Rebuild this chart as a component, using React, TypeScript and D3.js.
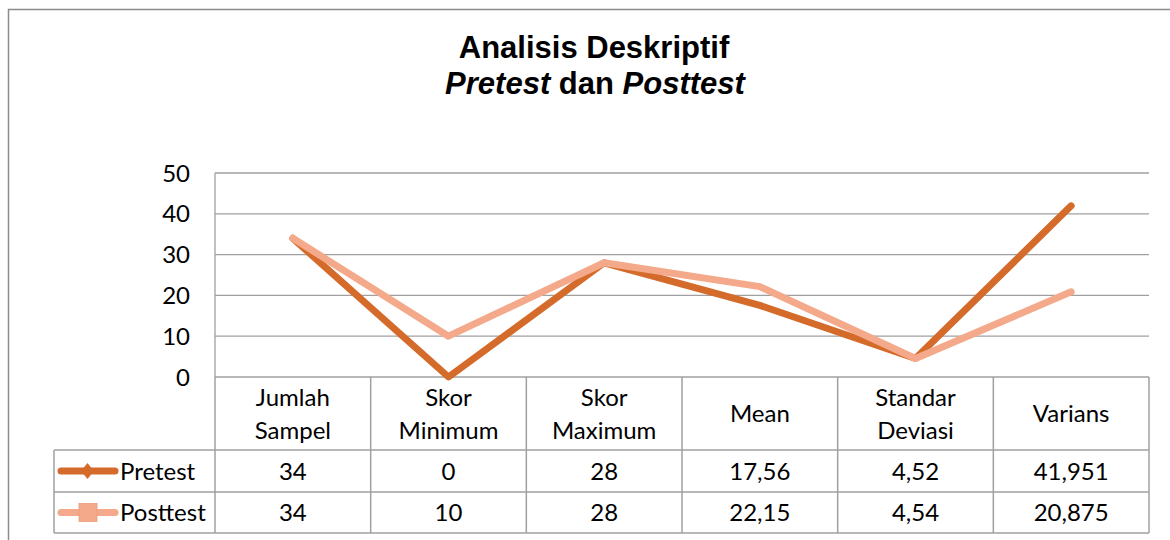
import React from "react";
import * as d3 from "d3";

const categories = ["Jumlah Sampel", "Skor Minimum", "Skor Maximum", "Mean", "Standar Deviasi", "Varians"];
const categoryLines = [["Jumlah", "Sampel"], ["Skor", "Minimum"], ["Skor", "Maximum"], ["Mean"], ["Standar", "Deviasi"], ["Varians"]];
const pretestValues = [34, 0, 28, 17.56, 4.52, 41.951];
const posttestValues = [34, 10, 28, 22.15, 4.54, 20.875];
const yTicks = [0, 10, 20, 30, 40, 50];
const seriesNames = ["Pretest", "Posttest"];

const W = 1170, H = 540;
const plotL = 215, plotR = 1149, plotT = 173, plotB = 377;
const legendL = 54;
const row1B = 450, row2B = 492, row3B = 533;
const gridColor = "#a0a0a0";
const preColor = "#D46B2B";
const postColor = "#F4A98A";
const font = "Lato, 'Noto Sans', sans-serif";
const fs = 24;

const fmt = (v: number) => String(v).replace(".", ",");

export default function App() {
  const x = d3.scaleBand<string>().domain(categories).range([plotL, plotR]);
  const y = d3.scaleLinear().domain([0, 50]).range([plotB, plotT]);
  const cx = (c: string) => (x(c) as number) + x.bandwidth() / 2;
  const line = d3
    .line<number>()
    .x((_, i) => cx(categories[i]))
    .y((d) => y(d));

  const series = [
    { name: seriesNames[0], values: pretestValues, color: preColor, top: row1B, bottom: row2B },
    { name: seriesNames[1], values: posttestValues, color: postColor, top: row2B, bottom: row3B },
  ];

  return (
    <svg width={W} height={H} style={{ position: "absolute", left: 0, top: 0, display: "block" }} fontFamily={font}>
      <rect x={0} y={0} width={W} height={H} fill="#fff" />
      <rect x={8.5} y={9.5} width={W + 20} height={H + 20} fill="none" stroke="#8c8c8c" strokeWidth={1.5} />

      <g fontFamily="'Liberation Sans', Arial, sans-serif" fontWeight="bold" fontSize={31} textAnchor="middle" fill="#000">
        <text x={594} y={58}>Analisis Deskriptif</text>
        <text x={595} y={94}>
          <tspan fontStyle="italic">Pretest</tspan>
          <tspan> dan </tspan>
          <tspan fontStyle="italic">Posttest</tspan>
        </text>
      </g>

      {yTicks.map((t) => (
        <g key={t}>
          <line x1={plotL} x2={plotR} y1={y(t)} y2={y(t)} stroke={gridColor} strokeWidth={1.3} />
          <text x={190} y={y(t)} dy="0.36em" textAnchor="end" fontSize={fs} fill="#000">
            {t}
          </text>
        </g>
      ))}
      <line x1={plotL} x2={plotL} y1={plotT} y2={plotB} stroke={gridColor} strokeWidth={1.3} />

      {/* table */}
      <g stroke={gridColor} strokeWidth={1.5}>
        {categories.map((c) => (
          <line key={c} x1={x(c) as number} x2={x(c) as number} y1={plotB} y2={row3B} />
        ))}
        <line x1={plotR} x2={plotR} y1={plotB} y2={row3B} />
        <line x1={legendL} x2={legendL} y1={row1B} y2={row3B} />
        <line x1={legendL} x2={plotR} y1={row1B} y2={row1B} />
        <line x1={legendL} x2={plotR} y1={row2B} y2={row2B} />
        <line x1={legendL} x2={plotR} y1={row3B} y2={row3B} />
      </g>

      {categories.map((c, i) => {
        const lines = categoryLines[i];
        const mid = (plotB + row1B) / 2;
        const lh = 33;
        return (
          <text key={c} textAnchor="middle" fontSize={fs} fill="#000">
            {lines.map((l, j) => (
              <tspan key={j} x={cx(c)} y={mid + (j - (lines.length - 1) / 2) * lh} dy="0.36em">
                {l}
              </tspan>
            ))}
          </text>
        );
      })}

      {series.map((s) => {
        const my = (s.top + s.bottom) / 2;
        return (
          <g key={s.name}>
            {s.values.map((v, i) => (
              <text key={i} x={cx(categories[i])} y={my} dy="0.36em" textAnchor="middle" fontSize={fs} fill="#000">
                {fmt(v)}
              </text>
            ))}
            <line x1={61} x2={115} y1={my} y2={my} stroke={s.color} strokeWidth={7} strokeLinecap="round" />
            {s.name === "Pretest" ? (
              <path d={`M87.5,${my - 8} L94,${my} L87.5,${my + 8} L81,${my} Z`} fill={s.color} />
            ) : (
              <rect x={79} y={my - 9} width={18} height={18} fill={s.color} stroke="#EE9A78" strokeWidth={0.8} />
            )}
            <text x={120} y={my} dy="0.36em" fontSize={fs} fill="#000">
              {s.name}
            </text>
          </g>
        );
      })}

      {series.map((s) => (
        <path
          key={s.name}
          d={line(s.values) as string}
          fill="none"
          stroke={s.color}
          strokeWidth={7}
          strokeLinecap="round"
          strokeLinejoin="round"
        />
      ))}
    </svg>
  );
}
